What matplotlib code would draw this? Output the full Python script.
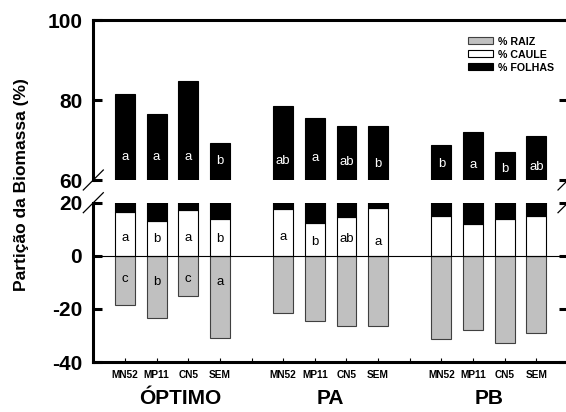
import matplotlib
matplotlib.use("Agg")
import matplotlib.pyplot as plt
from matplotlib.patches import Patch
import numpy as np

plt.rcParams['font.family'] = ['Liberation Sans', 'DejaVu Sans']

# treatments within each group and the three groups
categories = ['MN52', 'MP11', 'CN5', 'SEM']
groups = ['ÓPTIMO', 'PA', 'PB']

# biomass partition (%), 4 values per group
raiz = [18.6, 23.4, 15.2, 30.8, 21.5, 24.4, 26.6, 26.5, 31.3, 27.9, 32.9, 29.0]
caule = [16.6, 13.1, 17.2, 13.7, 17.5, 12.2, 14.6, 17.9, 15.1, 11.8, 13.7, 15.1]
folhas = [64.8, 63.5, 67.6, 55.5, 61.0, 63.4, 58.8, 55.6, 53.6, 60.3, 53.4, 55.9]

# significance letters ('' = none)
folhas_letters = ['a', 'a', 'a', 'b', 'ab', 'a', 'ab', 'b', 'b', 'a', 'b', 'ab']
caule_letters = ['a', 'b', 'a', 'b', 'a', 'b', 'ab', 'a', '', '', '', '']
raiz_letters = ['c', 'b', 'c', 'a', '', '', '', '', '', '', '', '']

# label heights (data units) inside the bars
folhas_letter_y = [65.8, 65.8, 65.8, 64.8, 64.8, 65.5, 64.6, 64.0, 64.0, 63.7, 62.8, 63.2]
caule_letter_y = [6.8, 6.3, 6.8, 6.3, 7.0, 5.3, 6.4, 5.3, 0, 0, 0, 0]
raiz_letter_y = [-8.9, -9.8, -8.9, -9.8, 0, 0, 0, 0, 0, 0, 0, 0]

x = np.array([g * 5 + i + 1 for g in range(len(groups)) for i in range(len(categories))])
width = 0.63

fig = plt.figure(figsize=(5.66, 4.12), dpi=100)
left, axw = 93.3 / 566, 474.7 / 566
ax_top = fig.add_axes([left, 232 / 412, axw, 160 / 412])
ax_bot = fig.add_axes([left, 50 / 412, axw, 159.3 / 412])

raiz_neg = -np.array(raiz)
caule_arr = np.array(caule)
folhas_arr = np.array(folhas)

for ax in (ax_top, ax_bot):
    ax.bar(x, raiz_neg, width, color='#c0c0c0', edgecolor='#404040', linewidth=0.8)
    ax.bar(x, caule_arr, width, color='white', edgecolor='black', linewidth=0.8)
    ax.bar(x, folhas_arr, width, bottom=caule_arr, color='black', edgecolor='black', linewidth=0.8)
    ax.set_xlim(0, 15)
    for s in ax.spines.values():
        s.set_linewidth(2.2)
    ax.tick_params(axis='y', which='both', direction='in', length=6.5, width=2.2,
                   labelsize=15, pad=8, right=True)

ax_top.set_ylim(60, 100)
ax_top.set_yticks([60, 80, 100])
ax_top.set_yticklabels(['60', '80', '100'], fontweight='bold')
ax_top.spines['bottom'].set_visible(False)
ax_top.tick_params(axis='x', bottom=False, labelbottom=False)

ax_bot.set_ylim(-40, 20)
ax_bot.set_yticks([-40, -20, 0, 20])
ax_bot.set_yticklabels(['-40', '-20', '0', '20'], fontweight='bold')
ax_bot.spines['top'].set_visible(False)
ax_bot.axhline(0, color='black', linewidth=0.8)

xt = np.arange(1, 15)
xl = []
for v in xt:
    if v % 5 == 0:
        xl.append('')
    else:
        xl.append(categories[(v % 5) - 1])
ax_bot.set_xticks(xt)
ax_bot.set_xticklabels(xl, fontsize=7.3, fontweight='bold')
ax_bot.tick_params(axis='x', direction='in', length=3, width=0.8, pad=5.5)

# group names
for g, name in enumerate(groups):
    gx = g * 5 + 2.5 + (0.25 if g == 0 else 0)
    ax_bot.text(gx, -0.23, name, transform=ax_bot.get_xaxis_transform(),
                ha='center', va='center', fontsize=15, fontweight='bold')

# letters in bars
for i in range(len(x)):
    if folhas_letters[i]:
        ax_top.text(x[i], folhas_letter_y[i], folhas_letters[i], color='white',
                    ha='center', va='center', fontsize=9.5)
    if caule_letters[i]:
        ax_bot.text(x[i], caule_letter_y[i], caule_letters[i], color='black',
                    ha='center', va='center', fontsize=9.5)
    if raiz_letters[i]:
        ax_bot.text(x[i], raiz_letter_y[i], raiz_letters[i], color='black',
                    ha='center', va='center', fontsize=9.5)

# break marks
dx, dy = 10 / 474.7, 10 / 160
for xs in (0, 1):
    ax_top.plot([xs - dx, xs + dx], [-dy, dy], transform=ax_top.transAxes,
                color='black', linewidth=0.9, clip_on=False)
    dy2 = 10 / 159.3
    ax_bot.plot([xs - dx, xs + dx], [1 - dy2, 1 + dy2], transform=ax_bot.transAxes,
                color='black', linewidth=0.9, clip_on=False)

handles = [Patch(facecolor='#c0c0c0', edgecolor='#404040', linewidth=0.8),
           Patch(facecolor='white', edgecolor='black', linewidth=0.8),
           Patch(facecolor='black', edgecolor='black', linewidth=0.8)]
leg = ax_top.legend(handles, ['% RAIZ', '% CAULE', '% FOLHAS'], loc='upper left',
                    bbox_to_anchor=(0.778, 0.93), frameon=False, borderpad=0,
                    handlelength=2.35, handleheight=0.65, labelspacing=0.28,
                    handletextpad=0.45, prop={'size': 7.7, 'weight': 'bold'})

fig.text(22 / 566, (412 - 185) / 412, 'Partição da Biomassa (%)', rotation=90,
         ha='center', va='center', fontsize=12.5, fontweight='bold')

fig.savefig('out.png', dpi=100)
